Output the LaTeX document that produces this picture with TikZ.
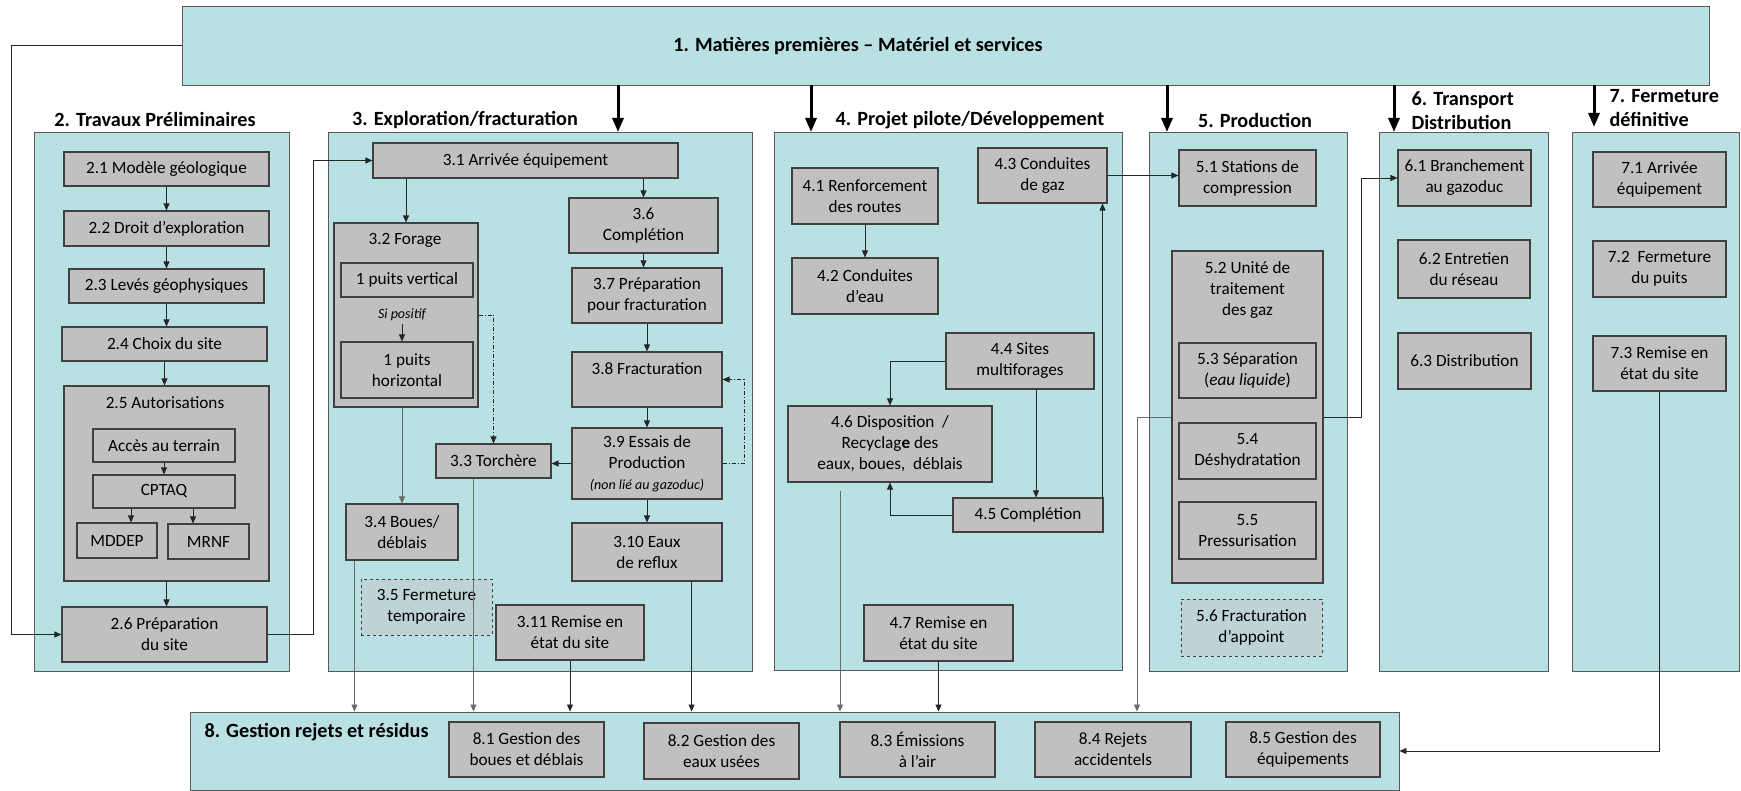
\documentclass[tikz,border=0pt]{standalone}
\usepackage{fontspec}
\setmainfont{Carlito}
\usetikzlibrary{arrows.meta}
\definecolor{panelbleu}{RGB}{185,224,227}
\definecolor{boitegris}{RGB}{192,192,192}
\definecolor{bordgris}{RGB}{64,64,64}
\definecolor{tirgris}{RGB}{190,211,213}
\tikzset{
  taille/.style 2 args={minimum width=#1pt, minimum height=#2pt},
  panneau/.style={draw=gray!70!black, fill=panelbleu, line width=0.9pt, inner sep=0pt},
  boite/.style={draw=bordgris, fill=boitegris, line width=1.1pt, align=center,
    inner sep=1pt, font=\fontsize{17.2}{21}\selectfont},
  boitetir/.style={boite, dashed, line width=0.8pt, fill=tirgris},
  texte/.style={align=center, font=\fontsize{17.2}{21}\selectfont},
  titre/.style={align=left, font=\bfseries\fontsize{20.2}{24}\selectfont},
  fl/.style={-{Triangle[length=7pt,width=6pt]}, line width=0.8pt, draw=black!85},
  flg/.style={fl, draw=gray!85!black},
  fltp/.style={fl, dash pattern=on 4pt off 2pt on 1pt off 2pt},
  flep/.style={-{Triangle[length=14pt,width=11pt]}, line width=3pt}
}
\begin{document}
\begin{tikzpicture}[x=1pt, y=-1pt]
\useasboundingbox (0,0) rectangle (1741,791);
% panneaux
\node[panneau, taille={1527}{79}] (n1) at (945.5,45.5) {};
\node[titre] (t1) at (858,46) {1. Matières premières -- Matériel et services};
\node[panneau, taille={255}{539}] (p2) at (161.5,401.5) {};
\node[panneau, taille={424}{539}] (p3) at (540,401.5) {};
\node[panneau, taille={348}{538}] (p4) at (948,401) {};
\node[panneau, taille={198}{539}] (p5) at (1248,401.5) {};
\node[panneau, taille={169}{539}] (p6) at (1463.5,401.5) {};
\node[panneau, taille={167}{539}] (p7) at (1655.5,401.5) {};
\node[panneau, taille={1209}{78}] (p8) at (794.5,751) {};
\node[titre] (t2) at (155,119) {2. Travaux Préliminaires};
\node[titre] (t3) at (465,120) {3. Exploration/fracturation};
\node[titre] (t4) at (970,120) {4. Projet pilote/Développement};
\node[titre] (t5) at (1255,120) {5. Production};
\node[titre, anchor=west] (t6) at (1408,111) {6. Transport\\Distribution};
\node[titre, anchor=west] (t7) at (1606,108.5) {7. Fermeture\\définitive};
\node[titre, anchor=west] (t8) at (201,732) {8. Gestion rejets et résidus};
% fleches epaisses
\coordinate (a3) at (618,132);
\coordinate (a4) at (811,132);
\coordinate (a5) at (1167,132);
\coordinate (a6) at (1394,132);
\coordinate (a7) at (1594,127);
\foreach \a in {a3,a4,a5,a6,a7}
  \draw[flep] (n1.south -| \a) -- (\a);
% 2. Travaux preliminaires
\node[boite, taille={205}{34}] (n21) at (166.5,169) {2.1 Modèle géologique};
\node[boite, taille={205}{35}] (n22) at (166.5,228.5) {2.2 Droit d’exploration};
\node[boite, taille={195}{34}] (n23) at (166.5,286) {2.3 Levés géophysiques};
\node[boite, taille={205}{34}] (n24) at (164.5,344) {2.4 Choix du site};
\node[boite, taille={205}{195}] (n25) at (166.5,483.5) {};
\node[texte] (n25t) at (165,403) {2.5 Autorisations};
\node[boite, taille={142}{33}] (nacc) at (164,445.5) {Accès au terrain};
\node[boite, taille={142}{33}] (ncpt) at (164,491.5) {CPTAQ};
\node[boite, taille={80}{35}] (nmdd) at (117,540.5) {MDDEP};
\node[boite, taille={81}{35}] (nmrn) at (208.5,541.5) {MRNF};
\node[boite, taille={205}{55}] (n26) at (164.5,634.5) {2.6 Préparation\\du site};
\draw[fl] (n21.south) -- (n21.south |- n22.north);
\draw[fl] (n22.south) -- (n22.south |- n23.north);
\draw[fl] (n23.south) -- (n23.south |- n24.north);
\draw[fl] (n24.south) -- (n24.south |- n25.north);
\draw[fl] (nacc.south) -- (nacc.south |- ncpt.north);
\coordinate (smd) at ([xshift=-33pt]ncpt.south);
\coordinate (smr) at ([xshift=29pt]ncpt.south);
\draw[fl] (smd) -- (smd |- nmdd.north);
\draw[fl] (smr) -- (smr |- nmrn.north);
\draw[fl] (n25.south) -- (n25.south |- n26.north);
% 3. Exploration/fracturation
\node[boite, taille={305}{35}] (n31) at (525.5,160.5) {3.1 Arrivée équipement};
\node[boite, taille={144}{184}] (n32) at (406,315) {};
\node[texte] (n32t) at (405,240) {3.2 Forage};
\node[boite, taille={132}{34}] (npv) at (407,280) {1 puits vertical};
\node[texte, font=\itshape\fontsize{14}{16}\selectfont] (sip) at (402,315) {Si positif};
\node[boite, taille={132}{56}] (nph) at (407,370) {1 puits\\horizontal};
\node[boite, taille={115}{34}] (n33) at (493.5,461) {3.3 Torchère};
\node[boite, taille={112}{56}] (n34) at (402,532) {3.4 Boues/\\déblais};
\node[boitetir, taille={131}{56}] (n35) at (426.5,607) {3.5 Fermeture\\temporaire};
\node[boite, taille={149}{55}] (n36) at (643.5,225.5) {3.6\\Complétion};
\node[boite, taille={150}{55}] (n37) at (647,295.5) {3.7 Préparation\\pour fracturation};
\node[boite, taille={150}{55}] (n38) at (647,379.5) {3.8 Fracturation\\\mbox{}};
\node[boite, taille={150}{71}] (n39) at (647,463.5)
  {3.9 Essais de\\Production\\{\itshape\fontsize{14}{17}\selectfont(non lié au gazoduc)}};
\node[boite, taille={150}{58}] (n310) at (647,552) {3.10 Eaux\\de reflux};
\node[boite, taille={148}{55}] (n311) at (570,632.5) {3.11 Remise en\\état du site};
\draw[fl] (n31.south -| n32.north) -- (n32.north);
\draw[fl] (n31.south -| n36.north) -- (n36.north);
\draw[fl] (sip.south) -- (sip.south |- nph.north);
\draw[fl] (n36.south) -- (n36.south |- n37.north);
\draw[fl] (n37.south) -- (n38.north);
\draw[fl] (n38.south) -- (n39.north);
\draw[fl] (n39.south) -- (n310.north);
\draw[fl] (n39.west) -- (n39.west -| n33.east);
\draw[flg] (n32.south -| n34.north) -- (n34.north);
\draw[fltp] (n32.east) -| (n33.north);
\coordinate (g39) at (744,463.5);
\draw[fltp] (n39.east) -- (g39) |- (n38.east);
% 4. Projet pilote
\node[boite, taille={146}{56}] (n41) at (865,196) {4.1 Renforcement\\des routes};
\node[boite, taille={146}{56}] (n42) at (865,286) {4.2 Conduites\\d’eau};
\node[boite, taille={129}{55}] (n43) at (1042.5,175.5) {4.3 Conduites\\de gaz};
\node[boite, taille={148}{56}] (n44) at (1020,361) {4.4 Sites\\multiforages};
\node[boite, taille={150}{34}] (n45) at (1028,515) {4.5 Complétion};
\node[boite, taille={204}{76}] (n46) at (890,444)
  {4.6 Disposition \ /\\Recyclag\textbf{e} des\\eaux, boues, \ déblais};
\node[boite, taille={149}{56}] (n47) at (938.5,633) {4.7 Remise en\\état du site};
\draw[fl] (n41.south) -- (n42.north);
\draw[fl] (n44.west) -| (n46.north);
\coordinate (s44) at ([xshift=16pt]n44.south);
\draw[fl] (s44) -- (s44 |- n45.north);
\draw[fl] (n45.west) -| (n46.south);
\coordinate (s45) at ([xshift=-1pt]n45.north east);
\draw[fl] (s45) -- (s45 |- n43.south);
% 5. Production
\node[boite, taille={137}{56}] (n51) at (1247.5,178) {5.1 Stations de\\compression};
\node[boite, taille={151}{332}] (n52) at (1247.5,417) {};
\node[texte] (n52t) at (1247.5,290) {5.2 Unité de\\traitement\\des gaz};
\node[boite, taille={137}{55}] (n53) at (1247.5,370.5) {5.3 Séparation\\(\textit{eau liquide})};
\node[boite, taille={137}{56}] (n54) at (1247.5,451) {5.4\\Déshydratation};
\node[boite, taille={137}{57}] (n55) at (1247.5,530.5) {5.5\\Pressurisation};
\node[boitetir, taille={141}{57}] (n56) at (1251.5,627.5) {5.6 Fracturation\\d’appoint};
\draw[fl] (n43.east) -- (n43.east -| n51.west);
% 6. Transport Distribution
\node[boite, taille={133}{56}] (n61) at (1464.5,178) {6.1 Branchement\\au gazoduc};
\node[boite, taille={132}{58}] (n62) at (1464,269) {6.2 Entretien\\du réseau};
\node[boite, taille={133}{56}] (n63) at (1464.5,361) {6.3 Distribution};
\coordinate (c61) at (1361,417);
\draw[fl] (n52.east) -- (c61) |- (n61.west);
% 7. Fermeture definitive
\node[boite, taille={133}{55}] (n71) at (1659.5,179.5) {7.1 Arrivée\\équipement};
\node[boite, taille={133}{56}] (n72) at (1659.5,269) {7.2 \ Fermeture\\du puits};
\node[boite, taille={133}{55}] (n73) at (1659.5,363.5) {7.3 Remise en\\état du site};
% 8. Gestion rejets
\node[boite, taille={155}{55}] (n81) at (526.5,749.5) {8.1 Gestion des\\boues et déblais};
\node[boite, taille={155}{56}] (n82) at (721.5,751) {8.2 Gestion des\\eaux usées};
\node[boite, taille={155}{55}] (n83) at (917.5,749.5) {8.3 Émissions\\à l’air};
\node[boite, taille={156}{55}] (n84) at (1113,749.5) {8.4 Rejets\\accidentels};
\node[boite, taille={154}{55}] (n85) at (1303,749.5) {8.5 Gestion des\\équipements};
% liaisons vers 8
\coordinate (s34) at ([xshift=9pt]n34.south west);
\coordinate (s33) at ([xshift=38pt]n33.south west);
\coordinate (s310) at ([xshift=-31pt]n310.south east);
\coordinate (s46) at ([xshift=-50pt,yshift=-8pt]n46.south);
\coordinate (c52) at (1137,417);
\draw[flg] (s34) -- (s34 |- p8.north);
\draw[flg] (s33) -- (s33 |- p8.north);
\draw[fl] (n311.south) -- (n311.south |- p8.north);
\draw[fl] (s310) -- (s310 |- p8.north);
\draw[flg] (s46) -- (s46 |- p8.north);
\draw[fl] (n47.south) -- (n47.south |- p8.north);
\draw[flg] (n52.west) -- (c52) -- (c52 |- p8.north);
\draw[fl] (n73.south) |- (p8.east);
% retours
\coordinate (g1) at (11,45.5);
\draw[fl] (n1.west) -- (g1) |- (n26.west);
\coordinate (g2) at (313,634.5);
\draw[fl] (n26.east) -- (g2) |- (n31.west);
\end{tikzpicture}
\end{document}
